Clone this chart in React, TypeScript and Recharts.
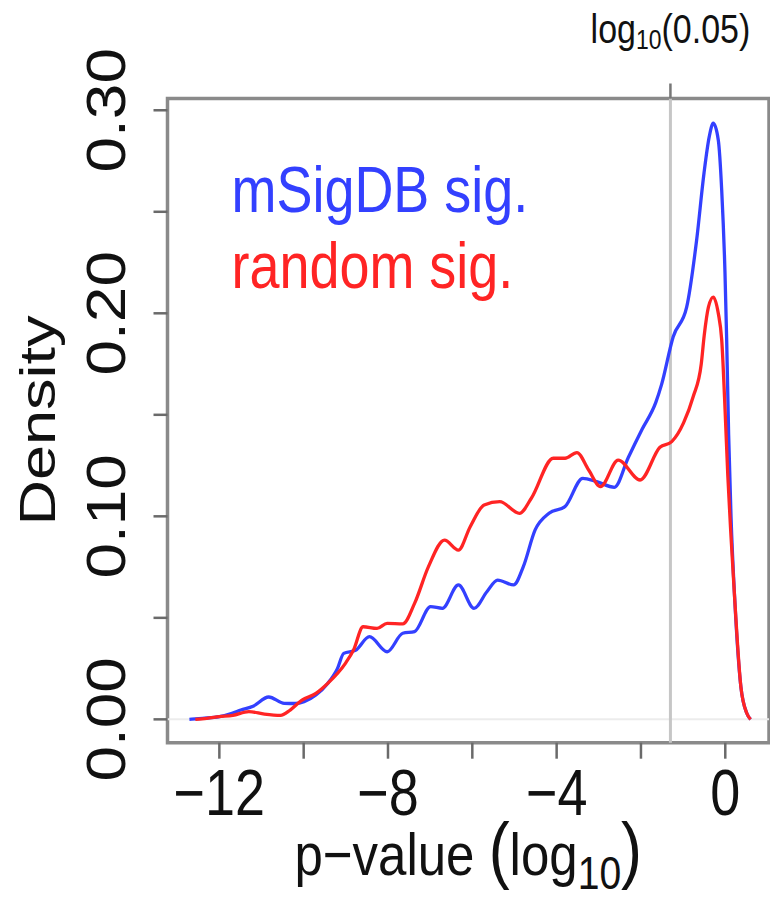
import React from "react";
import {
  LineChart,
  Line,
  XAxis,
  YAxis,
  ReferenceLine,
  ReferenceArea,
  Label,
} from "recharts";

// density curves (x = log10 p-value)
const msigX = [
  -12.71, -12.4, -12.0, -11.7, -11.49, -11.2, -10.83, -10.46, -10.2, -9.99,
  -9.71, -9.43, -9.2, -9.05, -8.77, -8.44, -8.02, -7.65, -7.37, -6.99, -6.71,
  -6.33, -5.96, -5.65, -5.4, -5.02, -4.79, -4.51, -4.18, -3.8, -3.38, -3.05,
  -2.63, -2.3, -1.97, -1.65, -1.51, -1.235, -0.916, -0.68, -0.505, -0.38,
  -0.285, -0.166, -0.085, -0.007, 0.033, 0.08, 0.136, 0.23, 0.37, 0.51, 0.6,
];
const msigDensity = [
  0, 0.0005, 0.0013, 0.003, 0.0046, 0.0065, 0.011, 0.0079, 0.0078, 0.0087,
  0.012, 0.0177, 0.025, 0.0325, 0.034, 0.0407, 0.0333, 0.0424, 0.0432, 0.0555,
  0.0547, 0.0662, 0.0547, 0.063, 0.0686, 0.0662, 0.0752, 0.0933, 0.1015,
  0.1048, 0.1187, 0.1171, 0.1143, 0.129, 0.143, 0.156, 0.165, 0.1885, 0.203,
  0.236, 0.269, 0.287, 0.2936, 0.2854, 0.2607, 0.22, 0.187, 0.14, 0.1, 0.057,
  0.016, 0.003, 0,
];

const randX = [
  -12.57, -12.3, -12.0, -11.68, -11.3, -10.93, -10.55, -10.32, -10.04, -9.71,
  -9.43, -9.01, -8.82, -8.59, -8.26, -8.02, -7.65, -7.37, -7.04, -6.66, -6.33,
  -6.05, -5.72, -5.35, -4.88, -4.6, -4.08, -3.8, -3.52, -3.24, -2.96, -2.54,
  -2.02, -1.55, -1.27, -0.99, -0.76, -0.57, -0.5, -0.4, -0.285, -0.166,
  -0.085, 0.0, 0.06, 0.136, 0.23, 0.37, 0.51, 0.6,
];
const randDensity = [
  0, 0.0005, 0.0013, 0.002, 0.0038, 0.0026, 0.002, 0.0046, 0.0095, 0.0128,
  0.0177, 0.0276, 0.034, 0.0456, 0.0448, 0.0473, 0.047, 0.0571, 0.0752,
  0.0883, 0.0834, 0.0949, 0.1056, 0.1072, 0.1015, 0.1089, 0.1286, 0.1286,
  0.1314, 0.1228, 0.1146, 0.1277, 0.1179, 0.134, 0.1368, 0.146, 0.159, 0.175,
  0.189, 0.203, 0.208, 0.2, 0.187, 0.15, 0.12, 0.09, 0.057, 0.016, 0.003, 0,
];

const xTicks = [-12, -10, -8, -6, -4, -2, 0];
const xTickLabels = [-12, -8, -4, 0];
const yTicks = [0, 0.05, 0.1, 0.15, 0.2, 0.25, 0.3];
const yTickLabels = ["0.00", "0.10", "0.20", "0.30"];

const X_MIN = -13.23;
const X_MAX = 1.037;
const Y_MIN = -0.0115;
const Y_MAX = 0.3058;
const CUTOFF = Math.log10(0.05);

const BLUE = "#3340ff";
const RED = "#ff2424";
const FONT = "'Liberation Sans', Arial, Helvetica, sans-serif";
const INK = "#111";
const SQUEEZE = 0.83;

const msigData = msigX.map((x, i) => ({ x, y: msigDensity[i] }));
const randData = randX.map((x, i) => ({ x, y: randDensity[i] }));

const fmtX = (v: number) => (v < 0 ? "\u2212" + Math.abs(v) : String(v));

const XTick = (props: any) => {
  const { x, y, payload } = props;
  if (!xTickLabels.includes(payload.value)) return <g />;
  return (
    <text
      transform={`translate(${x},${y + 56}) scale(${SQUEEZE},1)`}
      textAnchor="middle"
      fontFamily={FONT}
      fontSize={65}
      fill={INK}
    >
      {fmtX(payload.value)}
    </text>
  );
};

const YTick = (props: any) => {
  const { x, y, payload } = props;
  const label = payload.value.toFixed(2);
  if (!yTickLabels.includes(label)) return <g />;
  return (
    <text
      transform={`translate(${x - 28.5},${y}) scale(0.86,1) rotate(-90)`}
      textAnchor="middle"
      fontFamily={FONT}
      fontSize={64}
      fill={INK}
    >
      {label}
    </text>
  );
};

const XTitle = ({ viewBox }: any) => (
  <text
    transform={`translate(${viewBox.x + viewBox.width / 2},${viewBox.y + 132}) scale(0.85,1)`}
    textAnchor="middle"
    fontFamily={FONT}
    fontSize={60}
    fill={INK}
  >
    <tspan>p{"\u2212"}value </tspan>
    <tspan fontSize={74}>(</tspan>
    <tspan>log</tspan>
    <tspan fontSize={46} dy={14}>10</tspan>
    <tspan fontSize={74} dy={-14}>)</tspan>
  </text>
);

const YTitle = ({ viewBox }: any) => (
  <text
    transform={`translate(${viewBox.x + 55},${viewBox.y + viewBox.height / 2}) scale(0.8,1) rotate(-90)`}
    textAnchor="middle"
    fontFamily={FONT}
    fontSize={63}
    fill={INK}
  >
    Density
  </text>
);

const CutoffLabel = ({ viewBox }: any) => (
  <g>
    <line
      x1={viewBox.x}
      x2={viewBox.x}
      y1={viewBox.y - 15}
      y2={viewBox.y}
      stroke="#777"
      strokeWidth={2.5}
    />
    <text
      transform={`translate(${viewBox.x},${viewBox.y - 56}) scale(0.85,1)`}
      textAnchor="middle"
      fontFamily={FONT}
      fontSize={40}
      fill={INK}
    >
      <tspan>log</tspan>
      <tspan fontSize={27} dy={6}>10</tspan>
      <tspan dy={-6}>(0.05)</tspan>
    </text>
  </g>
);

const SeriesKey = ({ viewBox }: any) => (
  <g fontFamily={FONT} fontSize={65}>
    <text
      transform={`translate(${viewBox.x + 64},${viewBox.y + 113}) scale(${SQUEEZE},1)`}
      fill={BLUE}
    >
      mSigDB sig.
    </text>
    <text
      transform={`translate(${viewBox.x + 64},${viewBox.y + 189.5}) scale(${SQUEEZE},1)`}
      fill={RED}
    >
      random sig.
    </text>
  </g>
);

export default function App() {
  return (
    <div style={{ position: "absolute", left: 0, top: 0, background: "#fff" }}>
      <LineChart
        width={770}
        height={900}
        margin={{ top: 98.5, right: 1, bottom: 0, left: 0 }}
      >
        <XAxis
          type="number"
          dataKey="x"
          domain={[X_MIN, X_MAX]}
          ticks={xTicks}
          interval={0}
          allowDataOverflow
          height={157.3}
          axisLine={false}
          tickSize={16}
          tickMargin={0}
          tickLine={{ stroke: "#6a6a6a", strokeWidth: 2.5 }}
          tick={<XTick />}
        >
          <Label content={<XTitle />} />
        </XAxis>
        <YAxis
          type="number"
          dataKey="y"
          domain={[Y_MIN, Y_MAX]}
          ticks={yTicks}
          interval={0}
          allowDataOverflow
          width={167.5}
          axisLine={false}
          tickSize={14}
          tickMargin={0}
          tickLine={{ stroke: "#6a6a6a", strokeWidth: 2.5 }}
          tick={<YTick />}
        >
          <Label content={<YTitle />} />
        </YAxis>
        <ReferenceLine y={0} stroke="#ececec" strokeWidth={2} />
        <ReferenceLine
          x={CUTOFF}
          stroke="#c6c6c6"
          strokeWidth={3}
          label={<CutoffLabel />}
        />
        <ReferenceArea
          x1={X_MIN}
          x2={X_MAX}
          y1={Y_MIN}
          y2={Y_MAX}
          fill="none"
          stroke="#8a8a8a"
          strokeWidth={3.5}
          label={<SeriesKey />}
        />
        <Line
          data={msigData}
          dataKey="y"
          type="monotone"
          stroke={BLUE}
          strokeWidth={3.3}
          dot={false}
          isAnimationActive={false}
        />
        <Line
          data={randData}
          dataKey="y"
          type="monotone"
          stroke={RED}
          strokeWidth={3.3}
          dot={false}
          isAnimationActive={false}
        />
      </LineChart>
    </div>
  );
}
